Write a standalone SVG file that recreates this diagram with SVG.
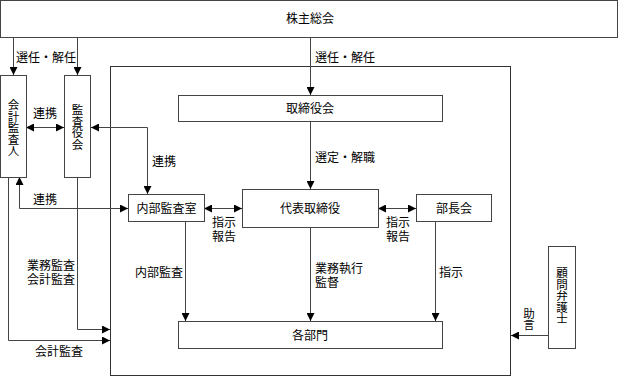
<svg xmlns="http://www.w3.org/2000/svg" width="621" height="377" viewBox="0 0 621 377">
<defs>
<marker id="ah" viewBox="0 0 10 10" refX="10" refY="5" markerWidth="8" markerHeight="8" markerUnits="userSpaceOnUse" orient="auto-start-reverse">
<path d="M0,0 L10,5 L0,10 Z" fill="#000"/>
</marker>
<style>
.box{fill:#fff;stroke:#444;stroke-width:1}
.frame{fill:none;stroke:#333;stroke-width:1}
.ln{fill:none;stroke:#444;stroke-width:1}
text{font-family:"Noto Sans CJK JP","Noto Sans CJK SC",sans-serif;font-size:12px;fill:#000}
.c{text-anchor:middle}
.v{writing-mode:vertical-rl;text-anchor:middle;font-size:11.5px}
.m{font-family:"Liberation Sans","Noto Sans CJK JP",sans-serif}
</style>
</defs>
<rect class="frame" x="110.5" y="66.5" width="400" height="309"/>
<g id="connectors">
<path class="ln" d="M13.5,37 V75" marker-end="url(#ah)"/>
<path class="ln" d="M77.5,37 V75" marker-end="url(#ah)"/>
<path class="ln" d="M310.5,37 V95" marker-end="url(#ah)"/>
<path class="ln" d="M310.5,121 V189" marker-end="url(#ah)"/>
<path class="ln" d="M26,127.5 H64" marker-start="url(#ah)" marker-end="url(#ah)"/>
<path class="ln" d="M91,127.5 H147.5 V194" marker-start="url(#ah)" marker-end="url(#ah)"/>
<path class="ln" d="M19.5,177 V208.5 H128" marker-start="url(#ah)" marker-end="url(#ah)"/>
<path class="ln" d="M204,208.5 H242" marker-start="url(#ah)" marker-end="url(#ah)"/>
<path class="ln" d="M378,208.5 H416" marker-start="url(#ah)" marker-end="url(#ah)"/>
<path class="ln" d="M185.5,221 V321" marker-end="url(#ah)"/>
<path class="ln" d="M310.5,227 V321" marker-end="url(#ah)"/>
<path class="ln" d="M435.5,221 V321" marker-end="url(#ah)"/>
<path class="ln" d="M77.5,177 V329.5 H110" marker-end="url(#ah)"/>
<path class="ln" d="M8.5,177 V340.5 H110" marker-end="url(#ah)"/>
<path class="ln" d="M548,335.5 H511" marker-end="url(#ah)"/>
</g>
<g id="labels">
<text x="16" y="62">選任・解任</text>
<text x="315" y="62">選任・解任</text>
<text x="45" y="118" class="c">連携</text>
<text x="152" y="166">連携</text>
<text x="315" y="162">選定・解職</text>
<text x="45" y="204" class="c">連携</text>
<text x="212" y="227" class="m"><tspan x="212">指示</tspan><tspan x="212" dy="14">報告</tspan></text>
<text x="386" y="227" class="m"><tspan x="386">指示</tspan><tspan x="386" dy="14">報告</tspan></text>
<text x="135" y="277">内部監査</text>
<text x="27" y="270" class="m"><tspan x="27">業務監査</tspan><tspan x="27" dy="14">会計監査</tspan></text>
<text x="35" y="356">会計監査</text>
<text x="315" y="273" class="m"><tspan x="315">業務執行</tspan><tspan x="315" dy="14">監督</tspan></text>
<text x="439" y="277">指示</text>
<text x="529" y="319" class="v">助言</text>
</g>
<g id="n-kabunushi">
<rect class="box" x="0.5" y="0.5" width="617" height="37"/>
<text x="310" y="23" class="c">株主総会</text>
</g>
<g id="n-torishimariyakukai">
<rect class="box" x="178.5" y="95.5" width="264" height="26"/>
<text x="310" y="113" class="c">取締役会</text>
</g>
<g id="n-kaikei">
<rect class="box" x="0.5" y="75.5" width="26" height="102"/>
<text x="13.5" y="128" class="v">会計監査人</text>
</g>
<g id="n-kansayakukai">
<rect class="box" x="64.5" y="75.5" width="26" height="102"/>
<text x="77.5" y="127" class="v">監査役会</text>
</g>
<g id="n-naibu">
<rect class="box" x="128.5" y="194.5" width="76" height="27"/>
<text x="166.5" y="213" class="c">内部監査室</text>
</g>
<g id="n-daihyo">
<rect class="box" x="242.5" y="189.5" width="136" height="38"/>
<text x="310" y="213" class="c">代表取締役</text>
</g>
<g id="n-buchokai">
<rect class="box" x="416.5" y="194.5" width="75" height="27"/>
<text x="454" y="213" class="c">部長会</text>
</g>
<g id="n-kakubumon">
<rect class="box" x="178.5" y="321.5" width="264" height="27"/>
<text x="310" y="340" class="c">各部門</text>
</g>
<g id="n-komon">
<rect class="box" x="548.5" y="246.5" width="27" height="102"/>
<text x="562" y="296" class="v">顧問弁護士</text>
</g>
</svg>
